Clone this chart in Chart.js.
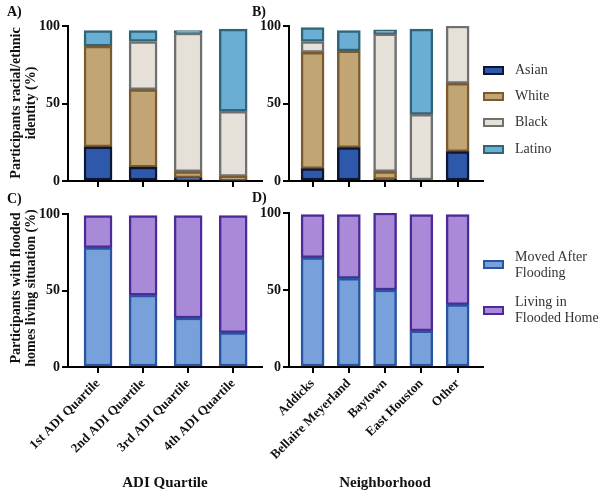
<!DOCTYPE html>
<html>
<head>
<meta charset="utf-8">
<script src="https://cdn.jsdelivr.net/npm/chart.js@4"></script>
<style>
  body { margin: 0; background: #fff; }
  #wrap { position: relative; width: 600px; height: 498px; font-family: "Liberation Serif", "Times New Roman", Tinos, "DejaVu Serif", serif; color: #111; }
  canvas { position: absolute; }
  .txt { position: absolute; white-space: nowrap; }
  .b { font-weight: bold; }
  .ytitle { position: absolute; font-weight: bold; font-size: 14px; line-height: 15px; text-align: center; white-space: nowrap;
            transform: translate(-50%, -50%) rotate(-90deg); }
  .lg { position: absolute; font-size: 14px; color: #333; line-height: 16px; white-space: nowrap; }
  .sw { position: absolute; width: 17px; height: 5px; border: 2px solid; }
</style>
</head>
<body>
<div id="wrap">
  <canvas id="chartA" width="264" height="195" style="left:0;top:0"></canvas>
  <canvas id="chartB" width="264" height="195" style="left:221px;top:0"></canvas>
  <canvas id="chartC" width="264" height="277" style="left:0;top:190px"></canvas>
  <canvas id="chartD" width="264" height="277" style="left:221px;top:190px"></canvas>

  <div class="txt b" style="left:7px;top:4px;font-size:14px">A)</div>
  <div class="txt b" style="left:252px;top:4px;font-size:14px">B)</div>
  <div class="txt b" style="left:7px;top:191px;font-size:14px">C)</div>
  <div class="txt b" style="left:252px;top:190px;font-size:14px">D)</div>

  <div class="ytitle" style="left:23px;top:103px">Participants racial/ethnic<br>identity (%)</div>
  <div class="ytitle" style="left:23px;top:288px">Participants with flooded<br>homes living situation (%)</div>

  <div class="txt b" style="left:165px;top:474px;font-size:15px;transform:translateX(-50%)">ADI Quartile</div>
  <div class="txt b" style="left:385px;top:474px;font-size:15px;transform:translateX(-50%)">Neighborhood</div>

  <div id="legend"></div>
</div>
<script>
// categories
const quartiles = ['1st ADI Quartile', '2nd ADI Quartile', '3rd ADI Quartile', '4th ADI Quartile'];
const hoods = ['Addicks', 'Bellaire Meyerland', 'Baytown', 'East Houston', 'Other'];
const yTicks = [0, 50, 100];

// A) race by ADI quartile (%)
const asianQ = [22, 9, 2, 0.5];
const whiteQ = [65, 50, 4, 2.5];
const blackQ = [0, 31, 89.5, 42];
const latinoQ = [10, 7, 1.5, 53];

// B) race by neighborhood (%)
const asianN = [8, 21.5, 1, 0, 19];
const whiteN = [75, 62.5, 5, 0, 44];
const blackN = [7, 0, 89, 43, 37];
const latinoN = [9, 13, 2.5, 55, 0];

// C) / D) living situation (%)
const movedQ = [78, 47, 32, 22.5];
const livingQ = [21, 52, 67, 76.5];
const movedN = [71, 57.5, 50, 23.5, 40.5];
const livingN = [28, 41.5, 50, 75.5, 58.5];

const race = [
  { label: 'Asian', fill: '#2e58aa', line: '#0c1736' },
  { label: 'White', fill: '#c2a574', line: '#7a5a2e' },
  { label: 'Black', fill: '#e5e1d8', line: '#707070' },
  { label: 'Latino', fill: '#6aaed3', line: '#2f6579' }
];
const living = [
  { label: 'Moved After Flooding', fill: '#78a0db', line: '#27559f' },
  { label: 'Living in Flooded Home', fill: '#a98ad8', line: '#4c2a97' }
];

const serif = '"Liberation Serif", "Times New Roman", Tinos, "DejaVu Serif", serif';

function stackedChart(id, labels, series, styles, opt) {
  const datasets = series.map((vals, k) => ({
    label: styles[k].label,
    data: vals.map((v, i) => ({ x: i, y: v })),
    backgroundColor: styles[k].fill,
    borderColor: styles[k].line,
    borderWidth: 2.5,
    borderSkipped: false,
    barThickness: opt.bw
  }));
  const axisGrid = { display: true, offset: false, drawOnChartArea: false, drawTicks: true, tickLength: 6, color: '#000', lineWidth: 2 };
  const axisBorder = { display: true, color: '#000', width: 2 };
  return new Chart(document.getElementById(id), {
    type: 'bar',
    data: { datasets },
    options: {
      responsive: false,
      animation: false,
      layout: { padding: { top: opt.top, right: 2, left: 0, bottom: 0 } },
      plugins: { legend: { display: false }, tooltip: { enabled: false } },
      scales: {
        x: {
          type: 'linear', offset: false, stacked: true, min: opt.xmin, max: opt.xmax,
          afterBuildTicks: s => { s.ticks = labels.map((l, i) => ({ value: i })); },
          afterFit: s => { s.height = opt.xh; },
          grid: axisGrid, border: axisBorder,
          ticks: {
            display: opt.showLabels, autoSkip: false, minRotation: 45, maxRotation: 45, padding: 3,
            color: '#111', font: { family: serif, weight: 'bold', size: 13 },
            callback: v => labels[v]
          }
        },
        y: {
          stacked: true, min: 0, max: 100,
          afterBuildTicks: s => { s.ticks = yTicks.map(v => ({ value: v })); },
          afterFit: s => { s.width = 68; },
          grid: axisGrid, border: axisBorder,
          ticks: { padding: 2, color: '#111', font: { family: serif, weight: 'bold', size: 14 } }
        }
      }
    }
  });
}

stackedChart('chartA', quartiles, [asianQ, whiteQ, blackQ, latinoQ], race,
  { bw: 28, xmin: -0.667, xmax: 3.64, top: 26, xh: 14, showLabels: false });
stackedChart('chartB', hoods, [asianN, whiteN, blackN, latinoN], race,
  { bw: 23, xmin: -0.65, xmax: 4.7, top: 26, xh: 14, showLabels: false });
stackedChart('chartC', quartiles, [movedQ, livingQ], living,
  { bw: 28, xmin: -0.667, xmax: 3.64, top: 24, xh: 100, showLabels: true });
stackedChart('chartD', hoods, [movedN, livingN], living,
  { bw: 23, xmin: -0.65, xmax: 4.7, top: 23, xh: 100, showLabels: true });

// legends
const legend = document.getElementById('legend');
function addEntry(style, y, textHtml, textY) {
  const sw = document.createElement('div');
  sw.className = 'sw';
  sw.style.left = '483px';
  sw.style.top = (y - 4) + 'px';
  sw.style.background = style.fill;
  sw.style.borderColor = style.line;
  legend.appendChild(sw);
  const t = document.createElement('div');
  t.className = 'lg';
  t.style.left = '515px';
  t.style.top = textY + 'px';
  t.innerHTML = textHtml;
  legend.appendChild(t);
}
[70, 96, 122, 149].forEach((y, k) => addEntry(race[k], y, race[k].label, y - 8));
addEntry(living[0], 264, 'Moved After<br>Flooding', 249);
addEntry(living[1], 310, 'Living in<br>Flooded Home', 294);
</script>
</body>
</html>
